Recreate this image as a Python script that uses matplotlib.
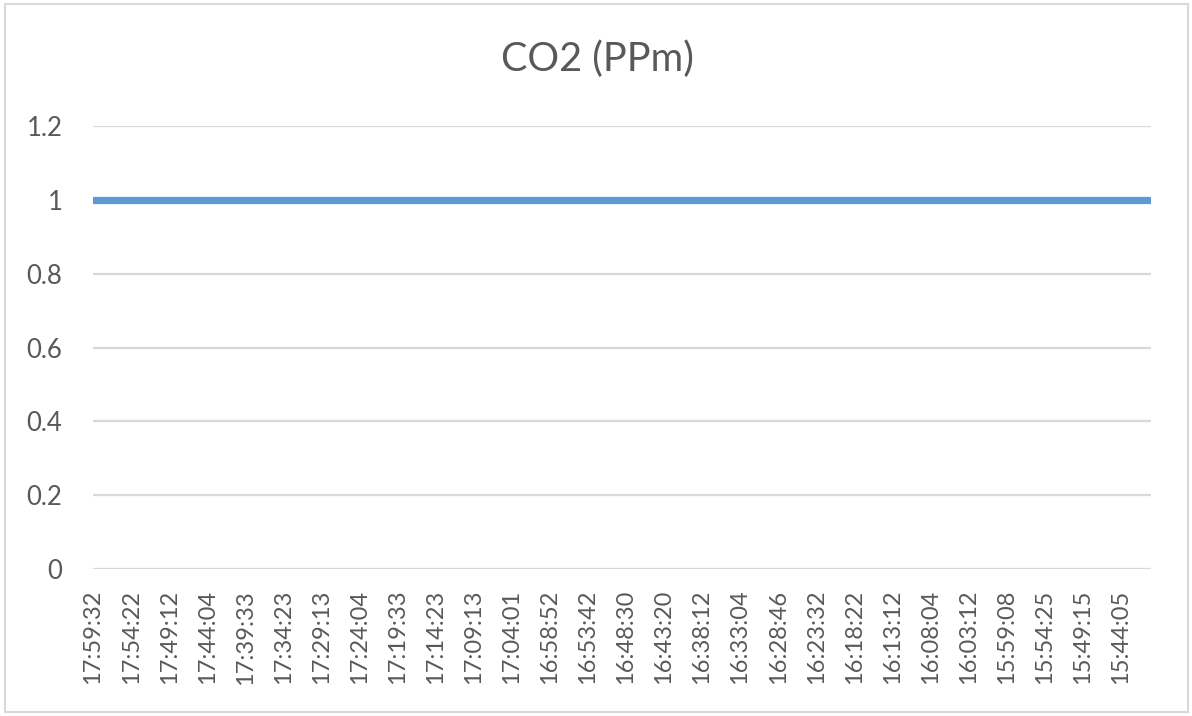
import numpy as np
import matplotlib
matplotlib.use("Agg")
import matplotlib.pyplot as plt
from matplotlib.patches import Rectangle

plt.rcParams['font.family'] = ['Lato', 'DejaVu Sans']

# CO2 读数，每隔约一分钟一个点，全部为 1
co2_values = [1] * 140

# 横轴只显示每 5 个点的时间
time_labels = [
    '17:59:32', '17:54:22', '17:49:12', '17:44:04', '17:39:33', '17:34:23',
    '17:29:13', '17:24:04', '17:19:33', '17:14:23', '17:09:13', '17:04:01',
    '16:58:52', '16:53:42', '16:48:30', '16:43:20', '16:38:12', '16:33:04',
    '16:28:46', '16:23:32', '16:18:22', '16:13:12', '16:08:04', '16:03:12',
    '15:59:08', '15:54:25', '15:49:15', '15:44:05',
]
label_step = 5
y_ticks = [0, 0.2, 0.4, 0.6, 0.8, 1, 1.2]
y_tick_labels = ['0', '0.2', '0.4', '0.6', '0.8', '1', '1.2']

text_color = '#595959'
grid_color = '#d9d9d9'

fig = plt.figure(figsize=(11.92, 7.16), dpi=100)
ax = fig.add_axes([93 / 1192, 147 / 716, 1058 / 1192, 443 / 716])

x = np.arange(len(co2_values))
ax.plot(x, co2_values, color='#5b9bd5', linewidth=5.2, solid_capstyle='round', zorder=3)

ax.set_xlim(0, len(co2_values) - 1)
ax.set_ylim(0, 1.2)
ax.set_xticks(x[::label_step][:len(time_labels)])
ax.set_xticklabels(time_labels, rotation=90, fontsize=17, color=text_color)
ax.set_yticks(y_ticks)
ax.set_yticklabels(y_tick_labels, fontsize=18.5, color=text_color)
ax.tick_params(axis='both', length=0)
ax.tick_params(axis='y', pad=22)
ax.tick_params(axis='x', pad=15)

for s in ax.spines.values():
    s.set_visible(False)
ax.grid(axis='y', color=grid_color, linewidth=1.6)
ax.set_axisbelow(True)

fig.text(597 / 1192, 1 - 59 / 716, 'CO2 (PPm)', ha='center', va='center',
         fontsize=28.5, color=text_color)

# 外边框
fig.patches.append(Rectangle((5 / 1192, 4 / 716), 1183 / 1192, 708 / 716,
                             transform=fig.transFigure, fill=False,
                             edgecolor=grid_color, linewidth=1.5))

fig.savefig('out.png', dpi=100)
